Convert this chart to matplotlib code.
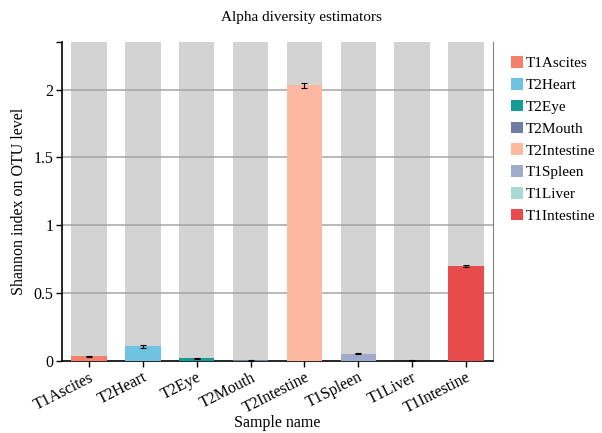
import matplotlib
matplotlib.use("Agg")
import matplotlib.pyplot as plt
from matplotlib.patches import Patch

samples = ["T1Ascites", "T2Heart", "T2Eye", "T2Mouth",
           "T2Intestine", "T1Spleen", "T1Liver", "T1Intestine"]
shannon = [0.035, 0.11, 0.02, 0.005, 2.03, 0.055, 0.003, 0.70]
errors = [0.006, 0.012, 0.006, 0.003, 0.02, 0.006, 0.003, 0.01]
colors = ["#F47F6B", "#6EC3E1", "#159C96", "#6E7CA6",
          "#FDB8A2", "#A0AACB", "#A8D9D2", "#E84B4B"]
y_max = 2.35
y_ticks = [0, 0.5, 1, 1.5, 2]

plt.rcParams["font.family"] = ["Liberation Serif", "DejaVu Serif"]

fig = plt.figure(figsize=(6.02, 4.33), dpi=100)
ax = fig.add_axes([0.103, 0.166, 0.716, 0.737])

x = list(range(len(samples)))
width = 0.66
ax.bar(x, [y_max] * len(samples), width=width, color="#D3D3D3", zorder=1)
for yv in y_ticks[1:]:
    ax.axhline(yv, color="#A5A5A5", linewidth=1.1, zorder=2)
ax.bar(x, shannon, width=width, color=colors, zorder=3)
ax.errorbar(x, shannon, yerr=errors, fmt="none", ecolor="black",
            elinewidth=0.8, capsize=2, capthick=0.8, zorder=4)

ax.set_xlim(-0.5, len(samples) - 0.5)
ax.set_ylim(0, y_max)
ax.set_yticks(y_ticks + [y_max])
ax.set_yticklabels([f"{t:g}" for t in y_ticks] + [""])
ax.set_xticks(x)
ax.set_xticklabels(samples, rotation=27, ha="right", rotation_mode="anchor")
ax.tick_params(axis="y", direction="out", length=4, width=1, labelsize=11.5, pad=2)
ax.tick_params(axis="x", direction="out", length=4, width=1, labelsize=11.5, pad=2)

ax.spines["top"].set_visible(False)
ax.spines["right"].set_color("#808080")
ax.spines["left"].set_linewidth(1.2)
ax.spines["bottom"].set_linewidth(1.2)

ax.set_ylabel("Shannon index on OTU level", fontsize=11.5)
ax.yaxis.set_label_coords(-0.082, 0.5)
ax.set_xlabel("Sample name", fontsize=11.5)
ax.xaxis.set_label_coords(0.5, -0.168)
fig.suptitle("Alpha diversity estimators", fontsize=11, y=0.975)

handles = [Patch(facecolor=c, label=s) for s, c in zip(samples, colors)]
fig.legend(handles=handles, loc="upper left", bbox_to_anchor=(0.826, 0.902),
           frameon=False, fontsize=11, handlelength=0.8, handleheight=0.8,
           handletextpad=0.15, labelspacing=0.5)

fig.savefig("out.png", dpi=100)
plt.close(fig)
